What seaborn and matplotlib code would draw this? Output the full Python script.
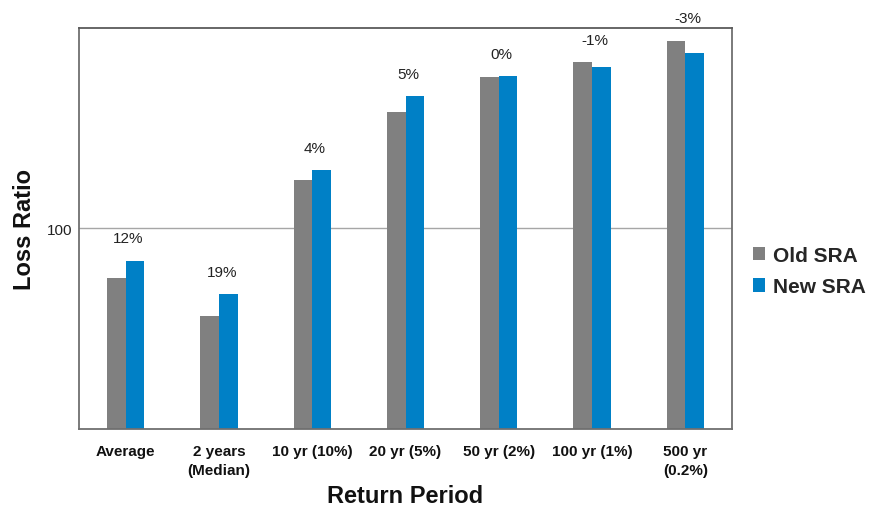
import matplotlib
matplotlib.use("Agg")
import matplotlib.pyplot as plt
import seaborn as sns
import pandas as pd

# Loss ratio by return period, old vs new SRA
periods = ["Average", "2 years\n(Median)", "10 yr (10%)", "20 yr (5%)",
           "50 yr (2%)", "100 yr (1%)", "500 yr\n(0.2%)"]
old_sra = [75.2, 56.4, 124.0, 158.1, 175.2, 182.7, 193.6]
new_sra = [83.9, 67.2, 129.0, 166.1, 175.9, 180.2, 187.2]
series_names = ["Old SRA", "New SRA"]
y_ticks = [100]

df = pd.DataFrame({
    "period": periods * 2,
    "value": old_sra + new_sra,
    "series": [series_names[0]] * len(periods) + [series_names[1]] * len(periods),
})

sns.set_theme(style="white")
plt.rcParams["font.family"] = ["Liberation Sans", "DejaVu Sans"]

fig = plt.figure(figsize=(8.69, 5.10), dpi=100)
ax = fig.add_axes([0.0909, 0.1569, 0.7515, 0.7868])

palette = {"Old SRA": "#808080", "New SRA": "#0080C6"}
sns.barplot(data=df, x="period", y="value", hue="series", order=periods,
            hue_order=series_names, palette=palette, width=0.4, gap=0,
            saturation=1, ax=ax, legend=True, edgecolor="none")

ax.set_ylim(0, 200)
ax.set_xlim(-0.5, len(periods) - 0.5)
ax.set_yticks(y_ticks)
ax.set_yticklabels([str(t) for t in y_ticks], fontsize=11, color="#222222")
ax.tick_params(axis="y", length=0, pad=5)
ax.tick_params(axis="x", length=0, pad=11)
for lbl in ax.get_xticklabels():
    lbl.set_fontweight("bold")
    lbl.set_fontsize(11)
    lbl.set_color("#111111")
    lbl.set_linespacing(1.45)

# reference line at 100
ax.axhline(100, color="#a6a6a6", lw=1.0, zorder=0)

for side in ["left", "right", "top", "bottom"]:
    ax.spines[side].set_visible(True)
    ax.spines[side].set_color("#6f6f6f")
    ax.spines[side].set_linewidth(1.3)
ax.spines["top"].set_color("#5a5a5a")

ax.set_xlabel("Return Period", fontsize=17, fontweight="bold", color="#111111")
ax.set_ylabel("Loss Ratio", fontsize=17, fontweight="bold", color="#111111")
ax.xaxis.set_label_coords(0.5, -0.166)
ax.yaxis.set_label_coords(-0.084, 0.5)
ax.xaxis.label.set_va("center")
ax.yaxis.label.set_va("center")

# percentage change labels above each pair
for i, (o, n) in enumerate(zip(old_sra, new_sra)):
    pct = round((n / o - 1) * 100)
    ax.annotate(f"{pct}%", xy=(i, max(o, n)), xytext=(2, 16),
                textcoords="offset points", ha="center", va="center",
                fontsize=11, color="#222222", annotation_clip=False)

handles, labels = ax.get_legend_handles_labels()
ax.legend(handles, labels, loc="center left", bbox_to_anchor=(0.866, 0.4665),
          bbox_transform=fig.transFigure, frameon=False,
          prop={"weight": "bold", "size": 15}, handlelength=0.62,
          handleheight=0.62, handletextpad=0.35, labelspacing=0.6,
          borderpad=0, borderaxespad=0)

fig.savefig("out.png", dpi=100)
